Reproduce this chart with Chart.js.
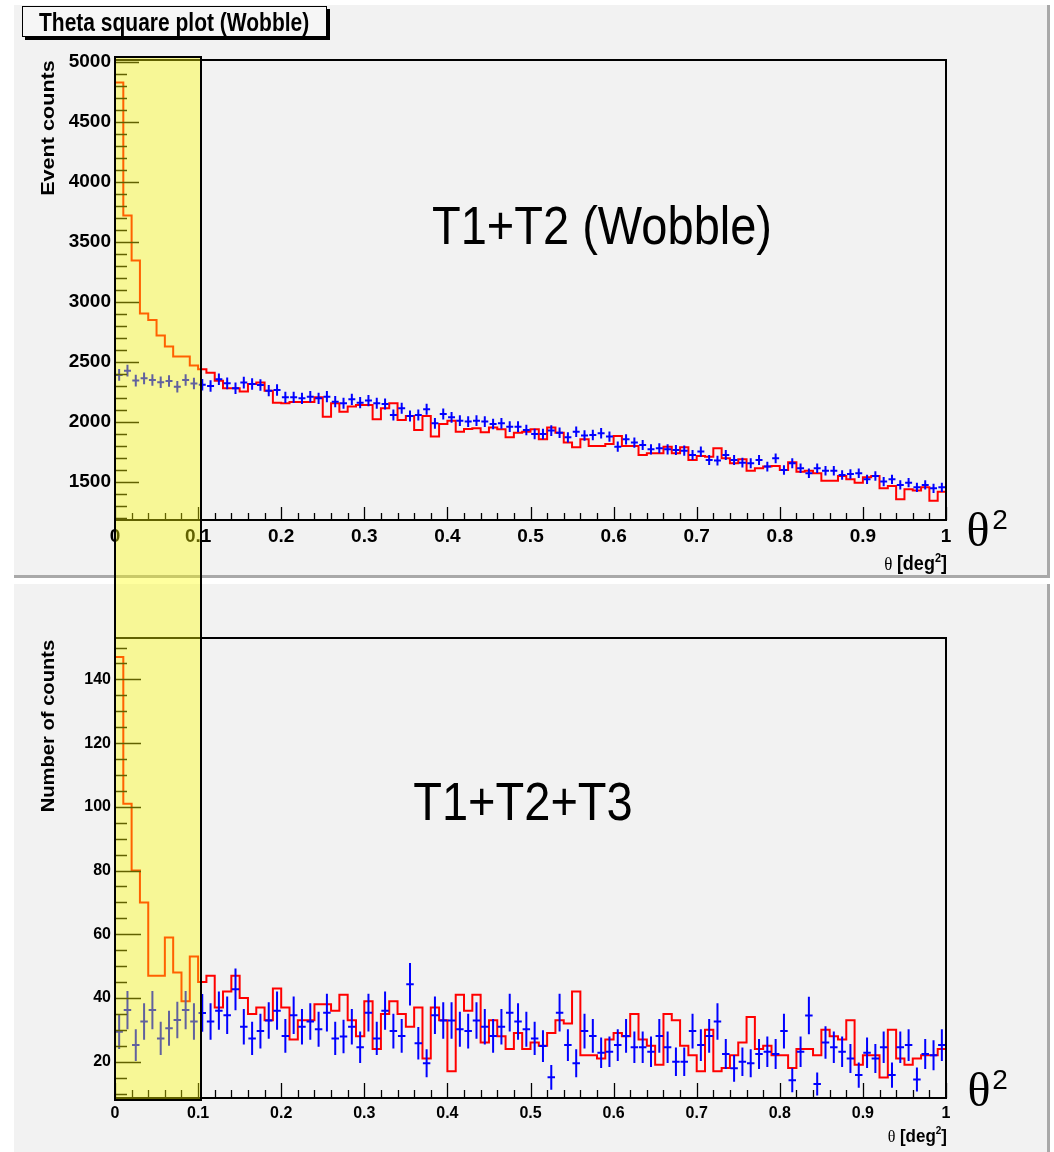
<!DOCTYPE html>
<html><head><meta charset="utf-8">
<script src="https://cdn.jsdelivr.net/npm/chart.js@4.4.1/dist/chart.umd.min.js"></script>
<style>
body{margin:0;background:#fff;}
#wrap{position:relative;width:1054px;height:1152px;overflow:hidden;font-family:"Liberation Sans",Arial,sans-serif;}
.panel{position:absolute;background:#f2f2f2;box-sizing:border-box;}
.t{position:absolute;white-space:nowrap;line-height:1;color:#000;}
canvas{position:absolute;left:0;}
</style></head><body>
<div id="wrap">
  <div class="panel" style="left:14px;top:5px;width:1036px;height:573px;border-right:3px solid #a9a9a9;border-bottom:3px solid #a9a9a9"></div>
  <div class="panel" style="left:14px;top:584px;width:1036px;height:568px;border-right:3px solid #a9a9a9"></div>
  <canvas id="c1" width="1054" height="580" style="top:0"></canvas>
  <canvas id="c2" width="1054" height="570" style="top:582px"></canvas>

  <div style="position:absolute;left:22px;top:6px;width:303px;height:29px;border:1.5px solid #000;background:#f6f6f6;box-shadow:3px 3px 0 #000"></div>
  <div class="t" style="left:39px;top:22px;font-weight:bold;font-size:21px;transform:translateY(-50%) scaleY(1.2)">Theta square plot (Wobble)</div>

  <div class="t" style="left:48px;top:128px;font-weight:bold;font-size:18px;transform:translate(-50%,-50%) rotate(-90deg) scaleX(1.2)">Event counts</div>
  <div class="t" style="left:48px;top:726px;font-weight:bold;font-size:18px;transform:translate(-50%,-50%) rotate(-90deg) scaleX(1.12)">Number of counts</div>

  <div class="t" style="left:602px;top:225px;font-size:47px;transform:translate(-50%,-50%) scaleY(1.15)">T1+T2 (Wobble)</div>
  <div class="t" style="left:523px;top:801px;font-size:47px;transform:translate(-50%,-50%) scaleY(1.15)">T1+T2+T3</div>

  <div class="t" style="left:978px;top:530px;font-family:'Liberation Serif',serif;font-size:48px;transform:translate(-50%,-50%)">θ</div>
  <div class="t" style="left:1000px;top:520px;font-size:28px;transform:translate(-50%,-50%)">2</div>
  <div class="t" style="left:979px;top:1090px;font-family:'Liberation Serif',serif;font-size:48px;transform:translate(-50%,-50%)">θ</div>
  <div class="t" style="left:1000px;top:1080px;font-size:28px;transform:translate(-50%,-50%)">2</div>

  <div class="t" style="right:107px;top:563px;transform:translateY(-50%) scaleY(1.1)"><span style="font-family:'Liberation Serif',serif;font-size:17px">θ</span> <b style="font-size:18px">[deg<span style="font-size:11px;position:relative;top:-7px">2</span>]</b></div>
  <div class="t" style="right:107px;top:1136px;transform:translateY(-50%) scaleY(1.1)"><span style="font-family:'Liberation Serif',serif;font-size:16px">θ</span> <b style="font-size:17px">[deg<span style="font-size:10px;position:relative;top:-7px">2</span>]</b></div>

  <div id="band" style="position:absolute;box-sizing:border-box;background:rgba(255,255,0,0.38);border:2px solid #000"></div>
</div>
<script>
// ---- data (bin width 0.01 deg^2, 100 bins from 0 to 1) ----
const binWidth = 0.01;
const xTickValues = [0,0.1,0.2,0.3,0.4,0.5,0.6,0.7,0.8,0.9,1];
const xTickLabels = ['0','0.1','0.2','0.3','0.4','0.5','0.6','0.7','0.8','0.9','1'];
const yTicksTop = [1500,2000,2500,3000,3500,4000,4500,5000];
const yTicksBottom = [20,40,60,80,100,120,140];

// top panel: ON (red histogram) and OFF (blue points)
const onTop = [4830,3720,3345,2905,2850,2720,2630,2545,2545,2470,
  2439,2411,2344,2281,2281,2253,2317,2328,2261,2161,
  2156,2167,2167,2167,2206,2044,2156,2086,2128,2142,
  2142,2022,2114,2156,2017,2050,1933,2050,1878,1983,
  2011,1919,1942,1947,1914,1953,1939,1872,1911,1919,
  1939,1856,1953,1911,1828,1789,1856,1800,1800,1817,
  1883,1800,1800,1725,1739,1739,1794,1739,1789,1683,
  1717,1711,1781,1697,1656,1689,1594,1614,1628,1633,
  1600,1664,1586,1594,1572,1511,1511,1550,1522,1494,
  1539,1550,1447,1467,1355,1439,1428,1455,1344,1419];
const offTop = [2392,2428,2345,2364,2350,2331,2342,2294,2350,2320,
  2310,2300,2356,2322,2281,2328,2317,2308,2261,2267,
  2206,2206,2197,2211,2197,2211,2169,2156,2189,2161,
  2178,2156,2150,2058,2114,2050,2058,2106,1989,2067,
  2039,2011,2003,2011,2003,1983,1989,1961,1961,1933,
  1900,1900,1928,1911,1872,1919,1888,1892,1906,1878,
  1794,1855,1828,1808,1772,1781,1772,1767,1761,1725,
  1753,1683,1678,1725,1683,1661,1656,1683,1628,1697,
  1600,1656,1614,1572,1614,1594,1594,1558,1567,1572,
  1522,1550,1503,1522,1475,1494,1455,1475,1447,1455];

// bottom panel
const onBottom = [147,101,80,70,47,47,59,48,39,53,
  45,47,37,42,47,40,35,37,33,43,
  37,27,33,33,38,38,36,41,33,28,
  39,24,35,39,35,31,37,21,37,33,
  17,41,36,41,26,33,28,24,29,24,
  26,25,29,33,32,42,22,22,21,27,
  29,28,35,27,25,19,35,33,25,22,
  17,30,17,18,22,26,34,24,25,22,
  22,18,24,24,22,30,28,27,33,19,
  22,22,15,30,21,19,21,22,22,24];
const offBottom = [29.4,36.2,25.2,32.6,36.2,27.3,30.5,33.1,36.2,32.6,
  35.3,32.6,36.0,34.6,42.7,31.0,27.3,29.6,32.9,36.0,
  28.1,34.6,31.0,32.6,30.2,35.4,27.3,27.9,31.0,24.5,
  35.4,27.3,36.0,29.6,28.1,44.3,25.8,19.5,34.6,32.9,
  32.9,30.2,29.6,32.9,31.0,28.1,31.0,35.4,32.6,30.2,
  27.3,24.9,15.1,35.4,25.2,19.5,29.6,28.1,22.8,23.1,
  25.2,28.1,24.5,24.5,23.1,28.1,24.5,20.0,20.0,29.6,
  25.2,28.1,32.6,22.4,17.9,20.0,19.5,22.4,23.1,22.4,
  29.6,14.2,23.1,34.5,13.0,26.0,24.5,23.1,21.0,15.8,
  22.8,21.0,24.5,15.8,24.5,25.2,14.4,22.4,22.0,25.2];

// ---- helpers ----
Chart.defaults.font.family = '"Liberation Sans", Arial, sans-serif';
function stepData(vals){
  const d = vals.map((v,i)=>({x:i*binWidth, y:v}));
  d.push({x:vals.length*binWidth, y:vals[vals.length-1]});
  return d;
}
function pointData(vals){ return vals.map((v,i)=>({x:(i+0.5)*binWidth, y:v})); }

const rootStyle = {
  id:'rootStyle',
  afterDatasetsDraw(chart, args, o){
    const {ctx, chartArea:a, scales:{x,y}} = chart;
    ctx.save();
    // error-bar crosses for OFF points
    ctx.beginPath(); ctx.rect(a.left,a.top,a.right-a.left,a.bottom-a.top); ctx.clip();
    chart.data.datasets.forEach(ds=>{
      if(!ds.errBars) return;
      ctx.strokeStyle = ds.borderColor; ctx.lineWidth = 2;
      ds.data.forEach(p=>{
        const e = Math.sqrt(p.y);
        const px = x.getPixelForValue(p.x), py = y.getPixelForValue(p.y);
        ctx.beginPath();
        ctx.moveTo(px, y.getPixelForValue(p.y-e)); ctx.lineTo(px, y.getPixelForValue(p.y+e));
        ctx.moveTo(x.getPixelForValue(p.x-o.hw), py); ctx.lineTo(x.getPixelForValue(p.x+o.hw), py);
        ctx.stroke();
      });
    });
    ctx.restore();
    ctx.save();
    ctx.strokeStyle='#000'; ctx.lineWidth=1.3;
    ctx.beginPath();
    // y ticks (inward)
    const yMin = y.min, yMax = y.max;
    for(let v=Math.ceil(yMin/o.yMinor)*o.yMinor; v<=yMax+1e-9; v+=o.yMinor){
      const isMajor = Math.abs(v/o.yMajor - Math.round(v/o.yMajor))<1e-6;
      const py = Math.round(y.getPixelForValue(v))+0.5;
      ctx.moveTo(a.left, py); ctx.lineTo(a.left+(isMajor?o.yMajLen:o.yMinLen), py);
    }
    // x ticks (inward)
    for(let k=0; k<=Math.round(1/o.xMinor); k++){
      const v = k*o.xMinor;
      const isMajor = Math.abs(v/o.xMajor - Math.round(v/o.xMajor))<1e-6;
      const px = Math.round(x.getPixelForValue(v))+0.5;
      ctx.moveTo(px, a.bottom); ctx.lineTo(px, a.bottom-(isMajor?o.xMajLen:o.xMinLen));
    }
    ctx.stroke();
    // frame
    ctx.lineWidth=2;
    ctx.strokeRect(a.left, a.top, a.right-a.left, a.bottom-a.top);
    ctx.restore();
  }
};

function makeChart(id, onVals, offVals, yMin, yMax, yTicks, cfg){
  return new Chart(document.getElementById(id), {
    type:'line',
    data:{datasets:[
      {data:stepData(onVals), borderColor:'#ff0000', borderWidth:2, pointRadius:0, stepped:'before', fill:false},
      {type:'scatter', data:pointData(offVals), borderColor:'#0000ff', backgroundColor:'#0000ff', pointRadius:0, showLine:false, errBars:true}
    ]},
    options:{
      responsive:false, animation:false, events:[],
      layout:{padding:{left:0, right:108, top:cfg.top, bottom:0}},
      plugins:{legend:{display:false}, tooltip:{enabled:false}, rootStyle:cfg.ticks},
      scales:{
        x:{type:'linear', min:0, max:1,
           grid:{display:false, drawTicks:false}, border:{display:false},
           afterBuildTicks:s=>{ s.ticks = xTickValues.map(v=>({value:v})); },
           afterFit:s=>{ s.height = cfg.xh; },
           ticks:{autoSkip:false, maxRotation:0, padding:cfg.xpad, color:'#000',
                  font:{size:cfg.xfont, weight:'bold'},
                  callback:(v,i)=>xTickLabels[i]}},
        y:{type:'linear', min:yMin, max:yMax,
           grid:{display:false, drawTicks:false}, border:{display:false},
           afterBuildTicks:s=>{ s.ticks = yTicks.map(v=>({value:v})); },
           afterFit:s=>{ s.width = 115; },
           ticks:{padding:4, color:'#000', font:{size:cfg.yfont, weight:'bold'},
                  callback:v=>String(v)}}
      }
    },
    plugins:[rootStyle]
  });
}

const c1 = makeChart('c1', onTop, offTop, 1183, 5017, yTicksTop,
  {top:60, xh:60, xpad:5, xfont:19, yfont:19,
   ticks:{hw:0.0042, yMinor:100, yMajor:500, yMajLen:24, yMinLen:12, xMinor:0.02, xMajor:0.1, xMajLen:13, xMinLen:7}});
const c2 = makeChart('c2', onBottom, offBottom, 8.6, 153, yTicksBottom,
  {top:56, xh:54, xpad:6, xfont:16, yfont:16,
   ticks:{hw:0.0045, yMinor:5, yMajor:20, yMajLen:26, yMinLen:12, xMinor:0.02, xMajor:0.1, xMajLen:15, xMinLen:8}});

// signal-region band (theta^2 cut), placed through the chart's x scale
const band = document.getElementById('band');
const bx0 = c1.scales.x.getPixelForValue(0) - 1;
const bx1 = c1.scales.x.getPixelForValue(0.1035) + 1;
band.style.left = bx0 + 'px';
band.style.width = (bx1 - bx0) + 'px';
band.style.top = '56px';
band.style.height = (582 + c2.chartArea.bottom + 3 - 56) + 'px';
</script>
</body></html>
